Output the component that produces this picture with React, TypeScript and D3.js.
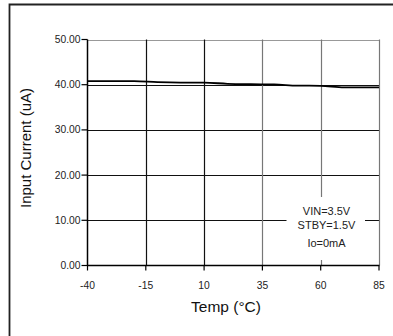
import React from "react";
import * as d3 from "d3";

const temps = [-40, -20, -10, 0, 10, 20, 30, 40, 50, 60, 70, 85];
const current = [40.8, 40.8, 40.55, 40.45, 40.45, 40.2, 40.1, 40.05, 39.8, 39.75, 39.4, 39.4];
const xTicks = [-40, -15, 10, 35, 60, 85];
const yTicks = [0, 10, 20, 30, 40, 50];
const legendLines = ["VIN=3.5V", "STBY=1.5V", "Io=0mA"];

const W = 393, H = 336;
const L = 87.5, R = 379, T = 39.5, B = 265.5;
const font = "Liberation Sans, Arial, sans-serif";

export default function App() {
  const x = d3.scaleLinear().domain([-40, 85]).range([L, R]);
  const y = d3.scaleLinear().domain([0, 50]).range([B, T]);
  const line = d3.line<number>().x((_, i) => x(temps[i])).y((d) => y(d)).curve(d3.curveMonotoneX);
  const grayV = new Set([35, 60, 85]);
  const legX = 326.5;
  const legY = [215, 229, 247];
  return (
    <svg width={W} height={H} style={{ position: "absolute", left: 0, top: 0 }}>
      <rect x={0} y={0} width={W} height={H} fill="#fff" />
      <path d={`M9.5,${H} V4.5 H${W}`} fill="none" stroke="#222" strokeWidth={1.8} />
      {yTicks.filter((t) => t !== 0).map((t) => (
        <line key={"h" + t} x1={L} x2={R} y1={Math.round(y(t)) + 0.5} y2={Math.round(y(t)) + 0.5}
          stroke={t === 50 ? "#999" : "#111"} strokeWidth={1} />
      ))}
      {xTicks.filter((t) => t !== -40).map((t) => (
        <line key={"v" + t} x1={Math.round(x(t)) + 0.5} x2={Math.round(x(t)) + 0.5} y1={T} y2={B}
          stroke={grayV.has(t) ? "#777" : "#111"} strokeWidth={1.2} />
      ))}
      <rect x={286.5} y={197} width={78.5} height={63} fill="#fff" />
      <path d={line(current) || ""} fill="none" stroke="#000" strokeWidth={1.8} />
      <line x1={L} x2={L} y1={T} y2={B + 0.5} stroke="#000" strokeWidth={1.5} />
      <line x1={L} x2={R + 0.5} y1={B} y2={B} stroke="#000" strokeWidth={1.5} />
      {yTicks.map((t) => (
        <g key={"yt" + t}>
          <line x1={L - 6} x2={L} y1={y(t)} y2={y(t)} stroke="#000" strokeWidth={1.2} />
          <text x={80.5} y={y(t) + 3.5} textAnchor="end" fontFamily={font} fontSize={10.3} fill="#222">
            {t.toFixed(2)}
          </text>
        </g>
      ))}
      {xTicks.map((t) => (
        <g key={"xt" + t}>
          <line x1={x(t)} x2={x(t)} y1={B} y2={B + 5} stroke="#000" strokeWidth={1.2} />
          <text x={x(t)} y={288.5} textAnchor="middle" fontFamily={font} fontSize={10.3} fill="#222">
            {t}
          </text>
        </g>
      ))}
      {legendLines.map((s, i) => (
        <text key={s} x={legX} y={legY[i]} textAnchor="middle" fontFamily={font} fontSize={11} fill="#222">
          {s}
        </text>
      ))}
      <text x={226} y={312} textAnchor="middle" fontFamily={font} fontSize={15.5} fill="#111">
        Temp (°C)
      </text>
      <text transform="translate(31,148) rotate(-90)" textAnchor="middle" fontFamily={font} fontSize={15} fill="#111">
        Input Current (uA)
      </text>
    </svg>
  );
}
